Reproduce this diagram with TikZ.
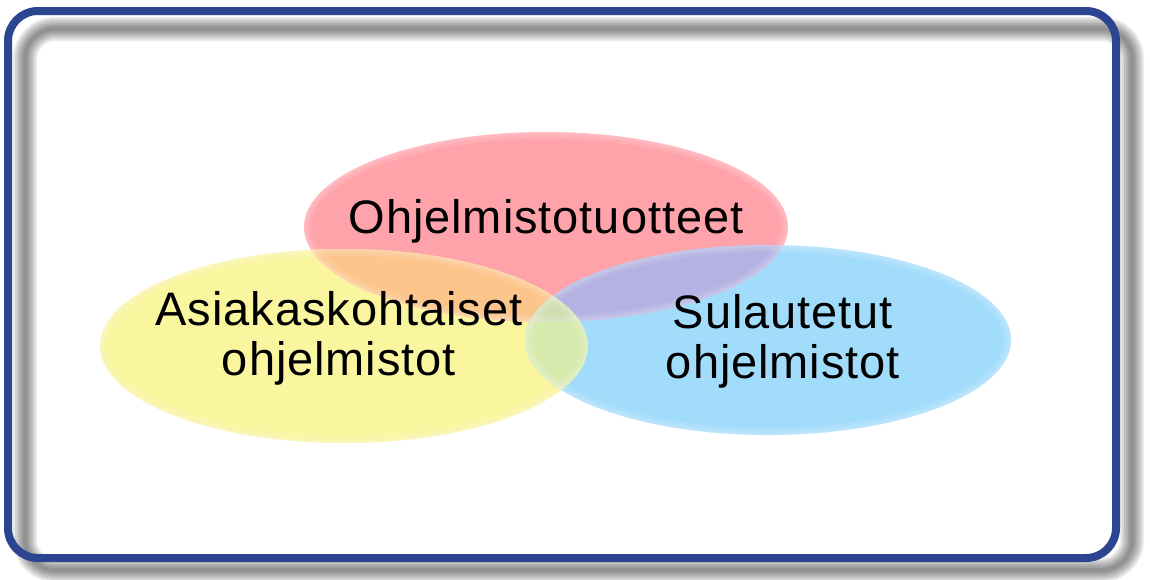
\documentclass[tikz,border=0pt]{standalone}
\usepackage{fontspec}
\setmainfont{Liberation Sans}[LetterSpace=2]
\begin{document}
\begin{tikzpicture}[x=1pt,y=-1pt,
  label/.style={font=\fontsize{47}{50}\selectfont, align=center, inner sep=0pt, text=black},
  frameline/.style={line width=8pt, draw=frameblue, rounded corners=30pt},
  shadowline/.style={draw=black, opacity=0.085, rounded corners=30pt},
  rim/.style={draw=white, opacity=0.1}]
\definecolor{frameblue}{HTML}{2B4590}
\definecolor{setred}{HTML}{FFA3AB}
\definecolor{setyellow}{HTML}{FAF6A0}
\definecolor{setblue}{HTML}{A2DCFB}
\definecolor{redyellow}{HTML}{FCC58C}
\definecolor{redblue}{HTML}{B3B2E2}
\definecolor{yellowblue}{HTML}{D7EAAE}
\definecolor{allthree}{HTML}{D2DDB0}
\useasboundingbox (0,0) rectangle (1150,579);
\fill[white] (0,0) rectangle (1150,579);

% soft drop shadow of the frame
\foreach \w in {4,8,12,16,20,24}
  \path[shadowline, line width=\w pt] (25,29) rectangle (1132,570);
% frame
\path[frameline] (8,11) rectangle (1116,558);

% the three sets
\def\setR{(546,227) ellipse [x radius=242, y radius=95]}
\def\setY{(344,346) ellipse [x radius=244, y radius=97]}
\def\setB{(768,340) ellipse [x radius=243, y radius=95]}

\fill[setred] \setR;
\fill[setyellow] \setY;
\fill[setblue] \setB;
\begin{scope}\clip \setR; \fill[redyellow] \setY; \end{scope}
\begin{scope}\clip \setR; \fill[redblue] \setB; \end{scope}
\begin{scope}\clip \setY; \fill[yellowblue] \setB; \end{scope}
\begin{scope}\clip \setR; \clip \setY; \fill[allthree] \setB; \end{scope}

% soft inner rims
\foreach \s in {\setR,\setY,\setB}{
  \begin{scope}
    \clip \s;
    \foreach \w in {4,8,14} \path[rim, line width=\w pt] \s;
  \end{scope}
}

% labels (base anchor sits on the last line)
\node[label, anchor=base] (prod) at (546,233) {Ohjelmistotuotteet};
\node[label, anchor=base] (cust) at (339,375) {Asiakaskohtaiset\\ohjelmistot};
\node[label, anchor=base] (emb) at (783,378) {Sulautetut\\ohjelmistot};
\end{tikzpicture}
\end{document}
